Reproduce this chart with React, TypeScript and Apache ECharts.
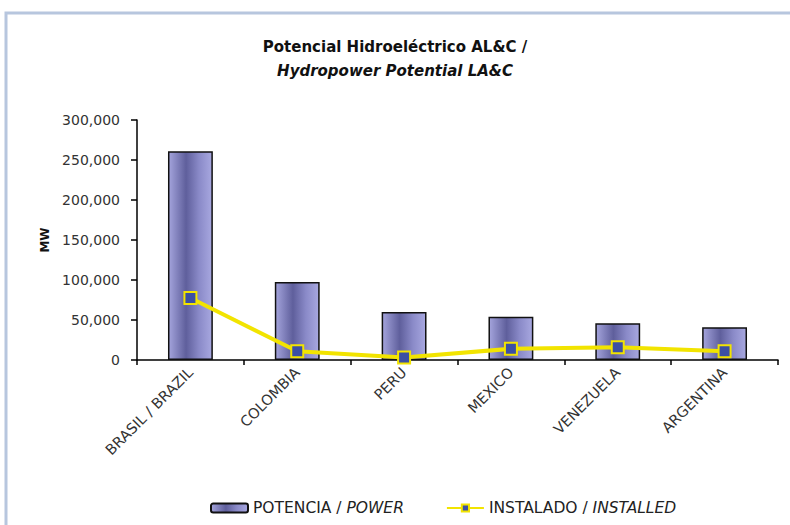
import React, { useEffect, useRef } from "react";
import * as echarts from "echarts";

const categories = ["BRASIL / BRAZIL", "COLOMBIA", "PERU", "MEXICO", "VENEZUELA", "ARGENTINA"];
const potentialMW = [261000, 97500, 60000, 54000, 46000, 41000];
const installedMW = [77500, 11000, 3000, 14000, 16000, 11000];
const yTicks = { min: 0, max: 300000, interval: 50000 };

const FONT = "'DejaVu Sans', 'Liberation Sans', Arial, sans-serif";

const barFill = new echarts.graphic.LinearGradient(0, 0, 1, 0, [
  { offset: 0, color: "#a4a4dc" },
  { offset: 0.4, color: "#5f5f9c" },
  { offset: 0.7, color: "#8a8ac8" },
  { offset: 1, color: "#a8a8e0" },
]);

export default function App() {
  const ref = useRef<HTMLDivElement>(null);

  useEffect(() => {
    const chart = echarts.init(ref.current!, null, { renderer: "svg" });
    chart.setOption({
      animation: false,
      backgroundColor: "#ffffff",
      textStyle: { fontFamily: FONT },
      graphic: [
        {
          type: "rect",
          shape: { x: 6, y: 13, width: 820, height: 600 },
          style: { fill: "none", stroke: "#b7c6de", lineWidth: 3 },
          silent: true,
        },
      ],
      title: {
        text: "Potencial Hidroeléctrico AL&C /\n{i|Hydropower Potential LA&C}",
        left: "center",
        top: 30,
        textStyle: {
          fontFamily: FONT,
          fontSize: 15,
          fontWeight: "bold",
          color: "#111",
          lineHeight: 24,
          rich: {
            i: { fontFamily: FONT, fontSize: 15, fontWeight: "bold", fontStyle: "italic", color: "#111", lineHeight: 24 },
          },
        },
      },
      legend: {
        bottom: 4,
        left: 205,
        itemGap: 42,
        itemWidth: 37,
        itemHeight: 9,
        textStyle: {
          fontFamily: FONT,
          fontSize: 15.5,
          color: "#222",
          rich: { i: { fontFamily: FONT, fontSize: 15.5, fontStyle: "italic", color: "#222" } },
        },
        formatter: (name: string) => {
          const [es, en] = name.split(" / ");
          return es + " / {i|" + en + "}";
        },
        data: ["POTENCIA / POWER", "INSTALADO / INSTALLED"],
      },
      grid: { left: 137, right: 12, top: 120, bottom: 165 },
      xAxis: {
        type: "category",
        data: categories,
        axisLine: { lineStyle: { color: "#000", width: 1.5 } },
        axisTick: { show: true, length: 5, lineStyle: { color: "#000", width: 1.5 } },
        axisLabel: {
          rotate: 45,
          interval: 0,
          fontFamily: FONT,
          fontSize: 14.5,
          color: "#333",
          margin: 10,
        },
      },
      yAxis: {
        type: "value",
        min: yTicks.min,
        max: yTicks.max,
        interval: yTicks.interval,
        name: "MW",
        nameLocation: "middle",
        nameGap: 86,
        nameTextStyle: { fontFamily: FONT, fontSize: 12, fontWeight: "bold", color: "#111" },
        splitLine: { show: false },
        axisLine: { show: true, lineStyle: { color: "#000", width: 1.5 } },
        axisTick: { show: true, length: 6, lineStyle: { color: "#000", width: 1.5 } },
        axisLabel: {
          fontFamily: FONT,
          fontSize: 14,
          color: "#333",
          margin: 17,
          formatter: (v: number) => v.toLocaleString("en-US"),
        },
      },
      series: [
        {
          name: "POTENCIA / POWER",
          type: "bar",
          data: potentialMW,
          barWidth: "42%",
          itemStyle: { color: barFill, borderColor: "#111", borderWidth: 1.5 },
        },
        {
          name: "INSTALADO / INSTALLED",
          type: "line",
          data: installedMW,
          symbol: "rect",
          symbolSize: 12,
          lineStyle: { color: "#f2e400", width: 4 },
          itemStyle: { color: "#3b4fa4", borderColor: "#f2e400", borderWidth: 2 },
          z: 5,
        },
      ],
    });
    return () => chart.dispose();
  }, []);

  return (
    <div
      ref={ref}
      style={{ position: "fixed", left: 0, top: 0, width: 790, height: 525 }}
    />
  );
}
